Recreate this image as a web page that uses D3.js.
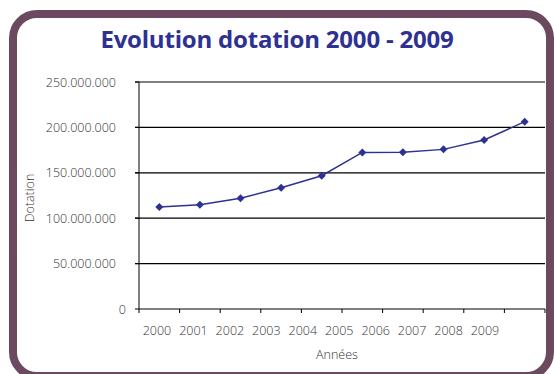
<!DOCTYPE html>
<html>
<head>
<meta charset="utf-8">
<script src="https://cdn.jsdelivr.net/npm/d3@7"></script>
<style>
    body { margin: 0; background: #fff; }
    svg { display: block; }
    .lbl { font-family: "Open Sans", "DejaVu Sans", sans-serif; font-weight: 300; fill: #333; font-size: 12.5px; }
</style>
</head>
<body>
<svg id="chart" width="554" height="374"></svg>
<script>
// data
const years = ["2000", "2001", "2002", "2003", "2004", "2005", "2006", "2007", "2008", "2009"];
const dotation = [112300000, 114900000, 121900000, 133600000, 146800000, 172400000, 172600000, 175800000, 186100000, 206300000];
const yTicks = [0, 50000000, 100000000, 150000000, 200000000, 250000000];

const svg = d3.select("#chart");
const fmt = v => v === 0 ? "0" : d3.format(",")(v).replace(/,/g, ".");

// frame
svg.append("rect")
    .attr("x", 13).attr("y", 14)
    .attr("width", 537).attr("height", 362)
    .attr("rx", 24).attr("ry", 24)
    .attr("fill", "#fff")
    .attr("stroke", "#6b4a60")
    .attr("stroke-width", 8);

svg.append("text")
    .attr("x", 277).attr("y", 48)
    .attr("text-anchor", "middle")
    .style("font-family", "'Open Sans', 'DejaVu Sans', sans-serif")
    .style("font-weight", 700)
    .style("font-size", "24px")
    .style("letter-spacing", "-0.2px")
    .attr("fill", "#2e3192")
    .text("Evolution dotation 2000 - 2009");

const plotL = 139, plotR = 545, plotT = 82, plotB = 309;

const x = d3.scaleBand().domain(years).range([plotL, plotR]);
const y = d3.scaleLinear().domain([0, 250000000]).range([plotB, plotT]);
// the year labels in the picture are packed tighter than the bands
const xLab = d3.scalePoint().domain(years).range([157, 485]);

// gridlines
svg.append("g")
    .selectAll("line")
    .data(yTicks.filter(d => d > 0))
    .join("line")
    .attr("x1", plotL - 4).attr("x2", plotR)
    .attr("y1", d => y(d)).attr("y2", d => y(d))
    .attr("stroke", "#000")
    .attr("stroke-width", 1.2);

// y axis
svg.append("line")
    .attr("x1", plotL).attr("x2", plotL)
    .attr("y1", plotT).attr("y2", plotB)
    .attr("stroke", "#000");
svg.append("g")
    .selectAll("line")
    .data(yTicks)
    .join("line")
    .attr("x1", plotL - 4).attr("x2", plotL)
    .attr("y1", d => y(d)).attr("y2", d => y(d))
    .attr("stroke", "#000");

svg.append("g")
    .selectAll("text")
    .data(yTicks)
    .join("text")
    .attr("class", "lbl")
    .attr("x", d => d === 0 ? 126 : 116)
    .attr("y", d => y(d) + 4.5)
    .attr("text-anchor", "end")
    .text(fmt);

// x axis
svg.append("line")
    .attr("x1", plotL).attr("x2", plotR)
    .attr("y1", plotB).attr("y2", plotB)
    .attr("stroke", "#000");
svg.append("g")
    .selectAll("line")
    .data(years.map(d => x(d)).concat([plotR]))
    .join("line")
    .attr("x1", d => d).attr("x2", d => d)
    .attr("y1", plotB).attr("y2", plotB + 4)
    .attr("stroke", "#000");

svg.append("g")
    .selectAll("text")
    .data(years)
    .join("text")
    .attr("class", "lbl")
    .attr("x", d => xLab(d))
    .attr("y", 335)
    .attr("text-anchor", "middle")
    .text(d => d);

svg.append("text")
    .attr("class", "lbl")
    .attr("x", 337).attr("y", 359)
    .attr("text-anchor", "middle")
    .text("Années");

svg.append("text")
    .attr("class", "lbl")
    .attr("transform", "translate(34,198) rotate(-90)")
    .attr("text-anchor", "middle")
    .text("Dotation");

// series
const cx = (d, i) => x(years[i]) + x.bandwidth() / 2;
svg.append("path")
    .datum(dotation)
    .attr("fill", "none")
    .attr("stroke", "#2e3192")
    .attr("stroke-width", 1.5)
    .attr("d", d3.line().x(cx).y(d => y(d)));

svg.append("g")
    .selectAll("path")
    .data(dotation)
    .join("path")
    .attr("transform", (d, i) => `translate(${cx(d, i)},${y(d)})`)
    .attr("d", "M0,-4 L4,0 L0,4 L-4,0 Z")
    .attr("fill", "#2e3192");
</script>
</body>
</html>
